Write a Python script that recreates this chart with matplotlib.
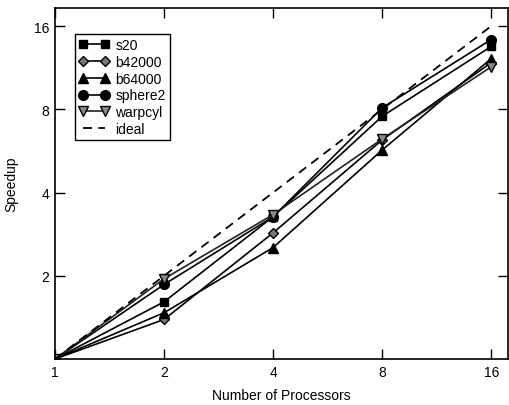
import matplotlib
matplotlib.use("Agg")
import matplotlib.pyplot as plt
from matplotlib.ticker import FixedLocator, FixedFormatter, NullLocator

plt.rcParams['font.family'] = ['Liberation Sans', 'DejaVu Sans']

# processor counts and measured speedups
procs = [1, 2, 4, 8, 16]
s20 = [1, 1.61, 3.27, 7.55, 13.5]
b42000 = [1, 1.39, 2.86, 6.2, 11.8]
b64000 = [1, 1.47, 2.53, 5.7, 12.2]
sphere2 = [1, 1.86, 3.27, 8.1, 14.3]
warpcyl = [1, 1.95, 3.33, 6.25, 11.4]
ideal = [1, 2, 4, 8, 16]

x_ticks = [1, 2, 4, 8, 16]
x_labels = ["1", "2", "4", "8", "16"]
y_ticks = [2, 4, 8, 16]
y_labels = ["2", "4", "8", "16"]

fig = plt.figure(figsize=(5.09, 4.06), dpi=100)
ax = fig.add_axes([55 / 509, 46 / 406, 453 / 509, 351 / 406])

ax.plot(procs, s20, color='black', lw=1.2, marker='s', ms=6, label='s20')
ax.plot(procs, b42000, color='black', lw=1.2, marker='D', ms=5,
        mfc='#777777', mec='black', label='b42000')
ax.plot(procs, b64000, color='black', lw=1.2, marker='^', ms=7, label='b64000')
ax.plot(procs, sphere2, color='black', lw=1.2, marker='o', ms=7, label='sphere2')
ax.plot(procs, warpcyl, color='#222222', lw=1.2, marker='v', ms=7,
        mfc='#888888', mec='black', label='warpcyl')
ax.plot(procs, ideal, color='black', lw=1.3, ls=(0, (5, 3.5)), label='ideal')

ax.set_xscale('log', base=2)
ax.set_yscale('log', base=2)
ax.set_xlim(1, 17.8)
ax.set_ylim(1, 18.6)

ax.xaxis.set_major_locator(FixedLocator(x_ticks))
ax.xaxis.set_major_formatter(FixedFormatter(x_labels))
ax.xaxis.set_minor_locator(NullLocator())
ax.yaxis.set_major_locator(FixedLocator(y_ticks))
ax.yaxis.set_major_formatter(FixedFormatter(y_labels))
ax.yaxis.set_minor_locator(NullLocator())
ax.tick_params(direction='in', top=True, right=True, length=7, width=1,
               labelsize=10, pad=4)

for s in ax.spines.values():
    s.set_linewidth(1.2)

ax.set_xlabel("Number of Processors", fontsize=10, labelpad=7)
ax.set_ylabel("Speedup", fontsize=10, labelpad=11)

leg = ax.legend(loc='upper left', bbox_to_anchor=(0.044, 0.926), numpoints=2,
                fancybox=False, framealpha=1, edgecolor='black', fontsize=10,
                handlelength=2.2, handletextpad=0.4, borderpad=0.3,
                labelspacing=0.2, borderaxespad=0)
leg.get_frame().set_linewidth(1.0)

fig.savefig("out.png", dpi=100)
